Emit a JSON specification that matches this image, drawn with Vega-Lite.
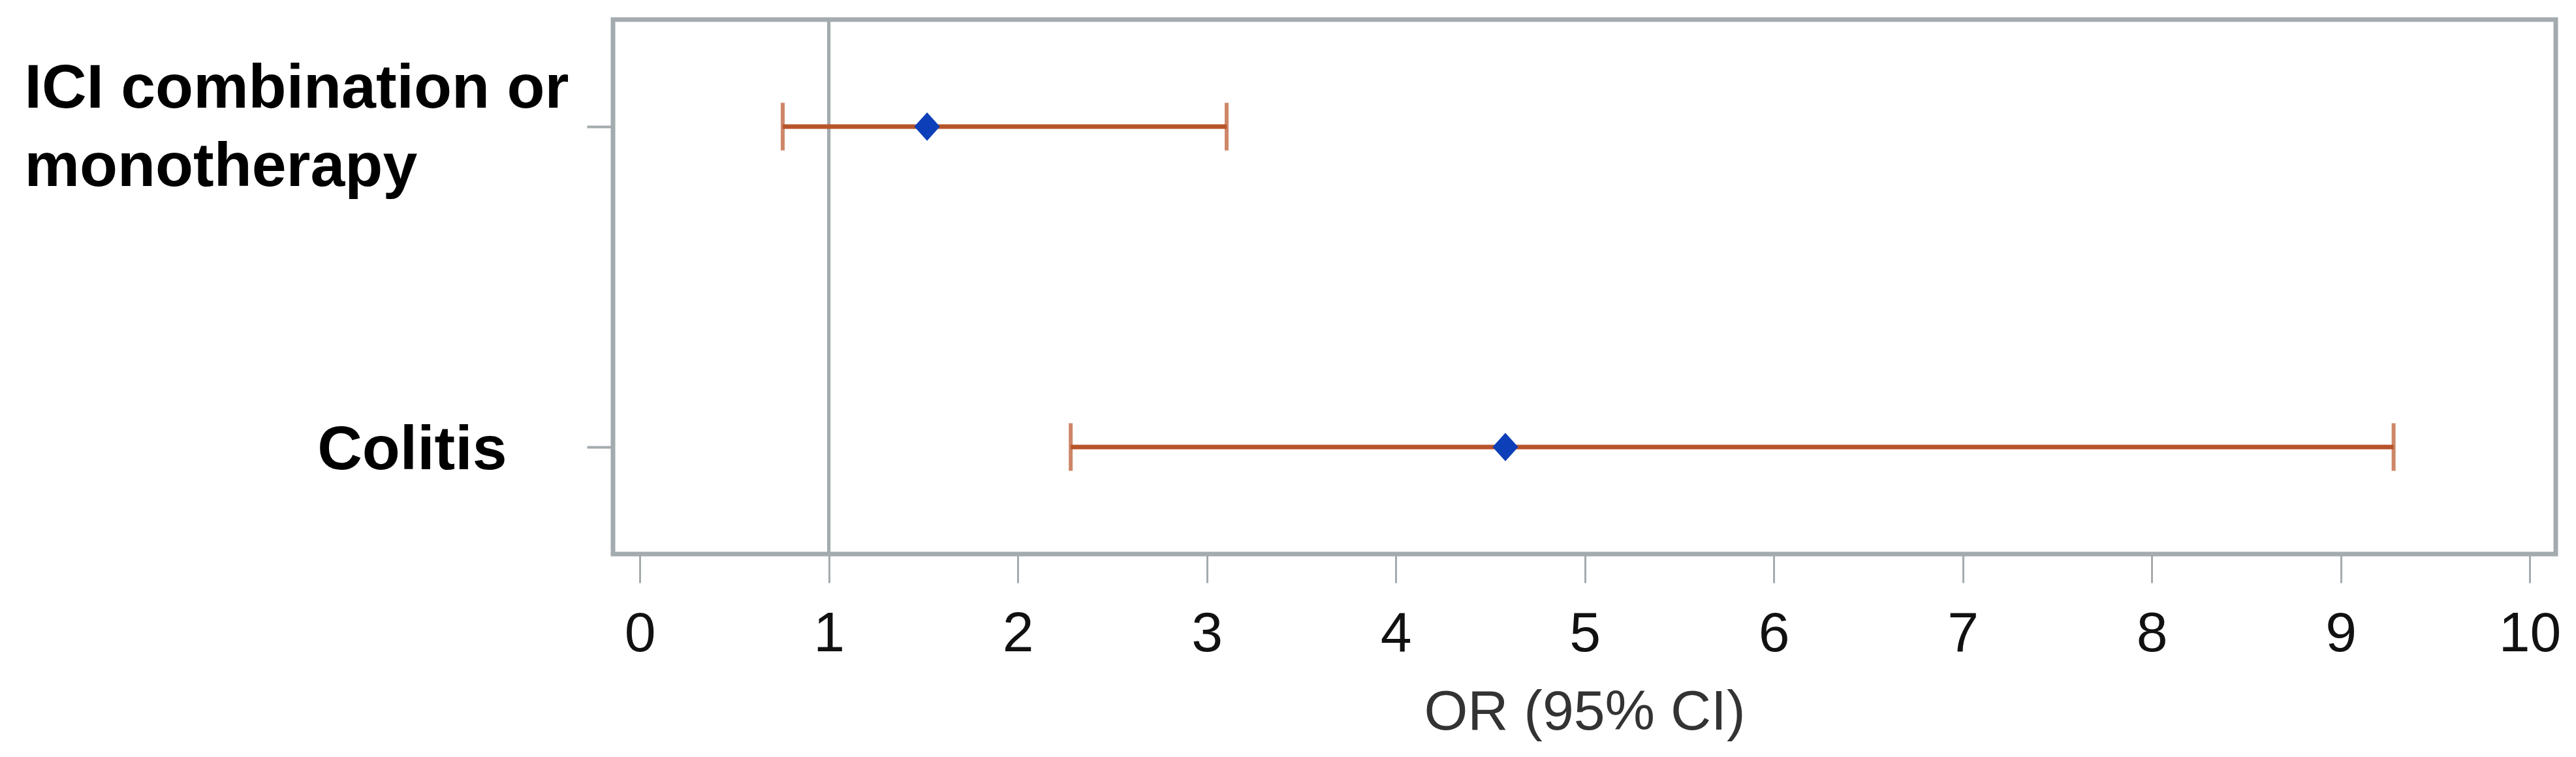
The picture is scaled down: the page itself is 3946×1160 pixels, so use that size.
{
  "$schema": "https://vega.github.io/schema/vega-lite/v6.json",
  "autosize": {"type": "none"},
  "padding": {"left": 939, "top": 30, "right": 31, "bottom": 311},
  "width": 2976,
  "height": 819,
  "background": "white",
  "config": {
    "view": {"stroke": "#a4abae", "strokeWidth": 7},
    "axis": {"grid": false, "domain": false}
  },
  "data": {
    "values": [
      {"factor": "ICI combination or monotherapy", "or": 1.52, "lo": 0.756, "hi": 3.105},
      {"factor": "Colitis", "or": 4.58, "lo": 2.28, "hi": 9.28}
    ]
  },
  "encoding": {
    "y": {
      "field": "factor",
      "type": "nominal",
      "sort": ["ICI combination or monotherapy", "Colitis"],
      "scale": {"type": "point", "padding": 0.334},
      "title": null,
      "axis": {
        "labelExpr": "datum.value == 'ICI combination or monotherapy' ? ['ICI combination or', 'monotherapy'] : '\u2060\u00a0\u00a0\u00a0\u00a0\u00a0\u00a0\u00a0\u00a0\u00a0\u00a0\u00a0\u00a0\u00a0\u00a0\u00a0\u00a0\u00a0' + datum.value",
        "labelAlign": "left",
        "labelBaseline": "middle",
        "labelFont": "Liberation Sans",
        "labelFontWeight": "bold",
        "labelFontSize": 95,
        "labelLineHeight": 120,
        "labelColor": "black",
        "labelPadding": 862,
        "labelOffset": {"condition": {"test": "datum.value == 'ICI combination or monotherapy'", "value": -58}, "value": 4},
        "labelLimit": 2000,
        "tickSize": 40,
        "tickWidth": 4,
        "tickColor": "#a4abae"
      }
    }
  },
  "layer": [
    {
      "mark": {"type": "rule", "color": "#a4abae", "strokeWidth": 5},
      "encoding": {"x": {"datum": 1}, "y": null}
    },
    {
      "mark": {"type": "rule", "color": "#b8542a", "strokeWidth": 7},
      "encoding": {
        "x": {
          "field": "lo",
          "type": "quantitative",
          "scale": {"domain": [-0.142, 10.138], "nice": false, "zero": false},
          "title": "OR (95% CI)",
          "axis": {
            "values": [0, 1, 2, 3, 4, 5, 6, 7, 8, 9, 10],
            "format": "d",
            "labelFont": "Liberation Sans",
            "labelFontSize": 86,
            "labelColor": "#111111",
            "labelPadding": 36,
            "tickSize": 44,
            "tickWidth": 3,
            "tickColor": "#a4abae",
            "titleFont": "Liberation Sans",
            "titleFontSize": 86,
            "titleFontWeight": "normal",
            "titleColor": "#333333",
            "titlePadding": 35
          }
        },
        "x2": {"field": "hi"}
      }
    },
    {
      "mark": {"type": "tick", "color": "#b8542a", "thickness": 6, "size": 73, "orient": "vertical"},
      "encoding": {"x": {"field": "lo", "type": "quantitative"}}
    },
    {
      "mark": {"type": "tick", "color": "#b8542a", "thickness": 6, "size": 73, "orient": "vertical"},
      "encoding": {"x": {"field": "hi", "type": "quantitative"}}
    },
    {
      "mark": {"type": "point", "shape": "M0,-1L0.9,0L0,1L-0.9,0Z", "filled": true, "color": "#0c3fb8", "size": 1900, "opacity": 1},
      "encoding": {"x": {"field": "or", "type": "quantitative"}}
    }
  ]
}
